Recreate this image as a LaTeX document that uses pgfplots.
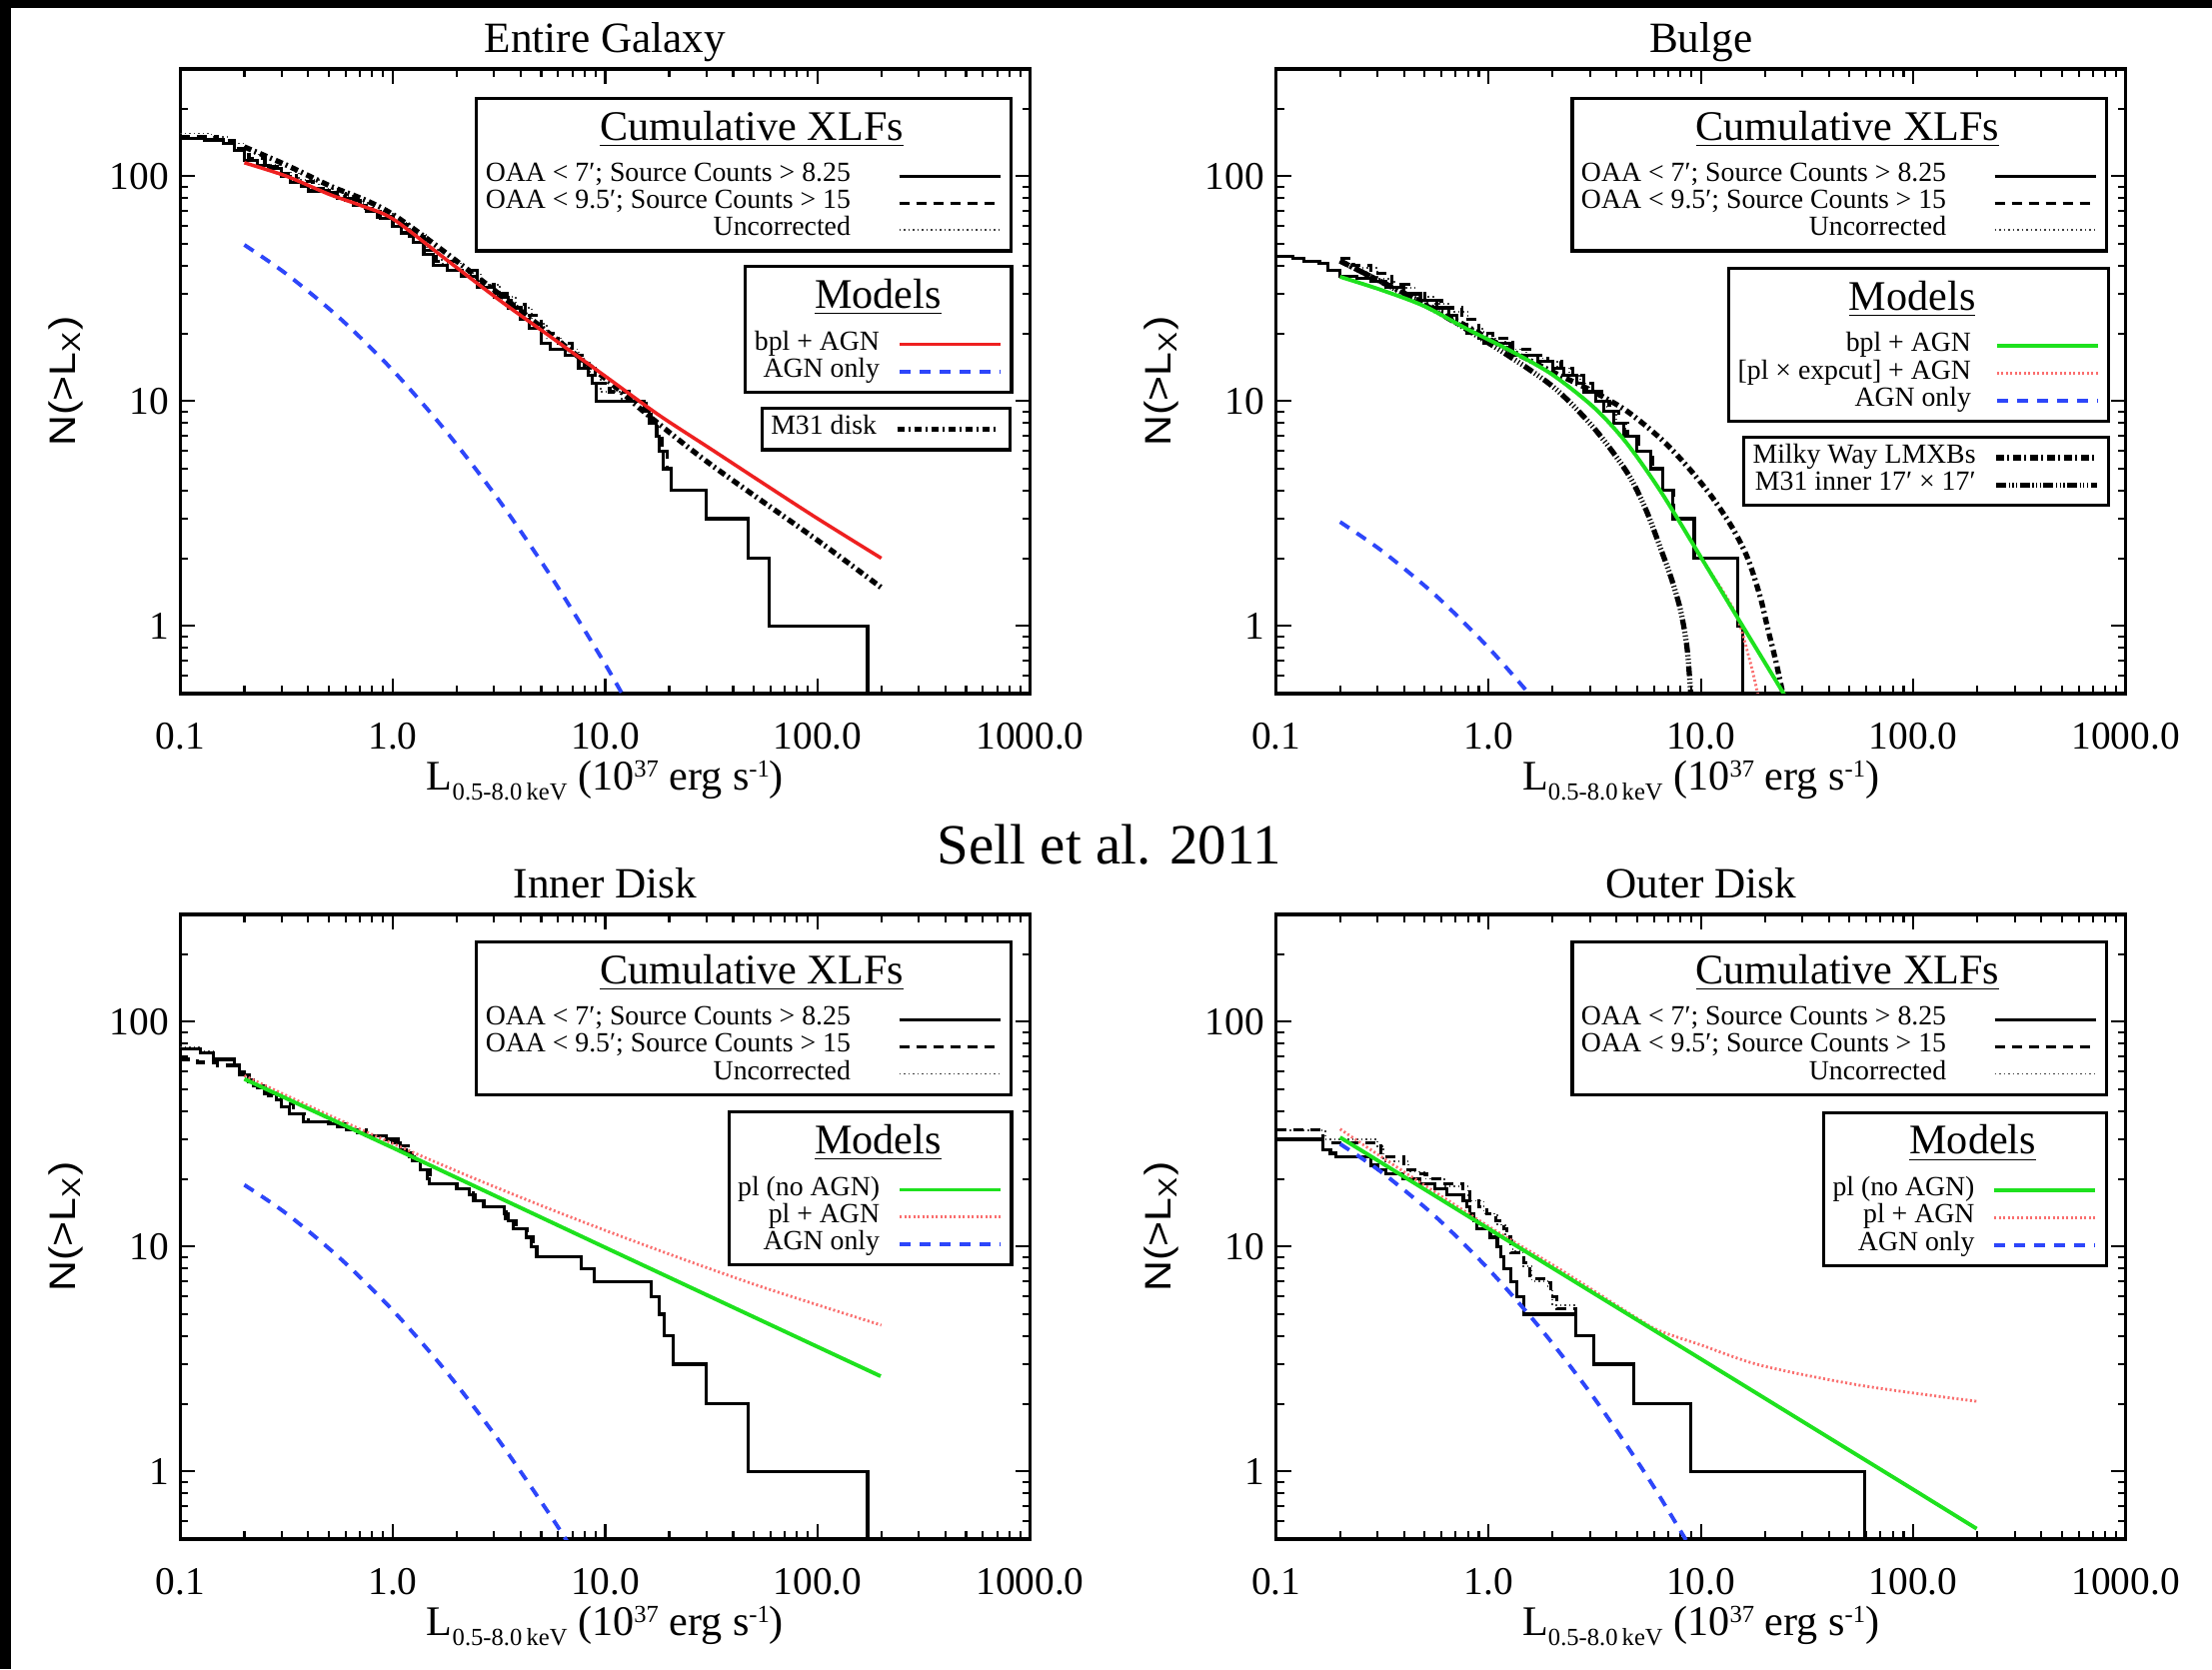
\documentclass[border=0pt]{standalone}
\usepackage{fontspec}
\setmainfont{Liberation Serif}
\newfontfamily\sansf{Liberation Sans}
\usepackage{graphicx}
\usepackage{pgfplots}
\pgfplotsset{compat=1.18}

\definecolor{mred}{RGB}{238,32,32}
\definecolor{mblue}{RGB}{45,70,250}
\definecolor{mgreen}{RGB}{30,225,30}
\definecolor{lred}{RGB}{250,110,110}

\newcommand{\ent}[1]{\rule[-0.8mm]{0pt}{2.7mm}#1}
\newcommand{\ttl}[2]{\rule[-2.25mm]{0pt}{5.7mm}\makebox[0pt]{\fontsize{12}{12}\selectfont\underline{#1}\hspace*{#2}}}
\newcommand{\xlab}{\fontsize{12}{13}\selectfont L\raisebox{-1.0mm}{\fontsize{7}{8}\selectfont 0.5-8.0\,keV} (10\raisebox{1.3mm}{\fontsize{7}{8}\selectfont 37} erg s\raisebox{1.3mm}{\fontsize{7}{8}\selectfont -1})}
\newcommand{\ylab}{\fontsize{10.5}{12}\selectfont\sansf\scalebox{1.16}[1]{N(>L\textsubscript{X})}}

\tikzset{
  solidk/.style={black, line width=0.9pt},
  dashk/.style={black, line width=0.9pt, dash pattern=on 1.0mm off 0.7mm},
  dotk/.style={black!75, line width=0.5pt, dash pattern=on 0.15mm off 0.3mm},
  redl/.style={mred, line width=1pt},
  bluel/.style={mblue, line width=1.1pt, dash pattern=on 1.1mm off 0.9mm},
  greenl/.style={mgreen, line width=1.1pt},
  reddot/.style={lred, line width=0.8pt, dash pattern=on 0.2mm off 0.25mm},
  mdisk/.style={black, line width=1.5pt, dash pattern=on 0.75mm off 0.35mm on 0.2mm off 0.4mm},
  mwl/.style={black, line width=1.5pt, dash pattern=on 0.75mm off 0.35mm on 0.2mm off 0.4mm},
  minner/.style={black, line width=1.5pt, dash pattern=on 1.0mm off 0.25mm on 0.12mm off 0.25mm on 0.12mm off 0.25mm on 0.12mm off 0.25mm},
}

\pgfplotsset{
  legend image code/.code={\draw[#1] (0mm,0mm) -- (8.5mm,0mm); \path (0mm,0mm) -- (10.1mm,0mm);},
  every axis/.append style={
    scale only axis, width=85mm, height=62.5mm,
    xmode=log, ymode=log, xmin=0.1, xmax=1000, ymin=0.5, ymax=300,
    xtick={0.1,1,10,100,1000}, xticklabels={0.1,1.0,10.0,100.0,1000.0},
    ytick={1,10,100}, yticklabels={1,10,100},
    minor xtick={0.2,0.3,0.4,0.5,0.6,0.7,0.8,0.9,2,3,4,5,6,7,8,9,20,30,40,50,60,70,80,90,200,300,400,500,600,700,800,900},
    minor ytick={0.6,0.7,0.8,0.9,2,3,4,5,6,7,8,9,20,30,40,50,60,70,80,90,200},
    tick align=inside, major tick length=1.5mm, minor tick length=0.8mm,
    tick style={black, line width=0.6pt},
    axis line style={line width=0.9pt},
    tick label style={font=\fontsize{11.2}{12}\selectfont, inner sep=0pt},
    xticklabel style={anchor=base, yshift=-5.5mm},
    yticklabel style={anchor=east, xshift=-1.1mm},
    legend plot pos=right,
    legend cell align=right,
    legend style={draw=black, line width=0.9pt, fill=white, font=\fontsize{7.9}{8}\selectfont,
      inner xsep=0.9mm, inner ysep=0.7mm, nodes={inner sep=0pt, text depth=, text height=}, row sep=0pt, anchor=north east},
  },
  every axis x label/.style={at={(axis description cs:0.5,-0.155)}, anchor=base},
  every axis y label/.style={at={(axis description cs:-0.1352,0.5)}, anchor=center, rotate=90},
  every axis title/.style={at={(axis description cs:0.5,1)}, anchor=base, yshift=1.6mm, font=\fontsize{12.3}{14}\selectfont},
}

\begin{document}
\begin{tikzpicture}
\fill[black] (0,0) rectangle (221.3mm,167mm);
\fill[white] (1.1mm,0) rectangle (221.3mm,166.2mm);

%================ Entire Galaxy ================
\begin{axis}[at={(18.05mm,97.6mm)}, anchor=south west, title={Entire Galaxy},
  xlabel={\xlab}, ylabel={\ylab},
  legend style={at={(0.979,0.955)}, column sep=4.7mm}]
\addplot[dotk, const plot, forget plot] coordinates {
(0.1,155) (0.14,150) (0.17,140) (0.2,125) (0.25,112) (0.3,104) (0.36,96) (0.45,88) (0.55,82) (0.65,76) (0.8,69) (1.0,62) (1.2,55) (1.45,47) (1.7,41) (2.1,37) (2.6,33) (3.2,29) (3.8,26) (4.5,22) (5.3,19) (6.3,17) (7.5,15) (8.5,13) (9.5,11) (12,10) (15.3,9) (16.1,8) (17.4,7) (18,6) (18.7,5) (20.4,4) (29.8,3) (46.9,2) (58.9,1) (171.8,0.1)};
\addplot[dashk, const plot, forget plot] coordinates {
(0.1,150) (0.15,144) (0.18,133) (0.21,120) (0.25,110) (0.3,103) (0.35,95) (0.42,88) (0.5,84) (0.6,78) (0.7,72) (0.85,66) (1.0,61) (1.2,54) (1.4,47) (1.6,42) (2.0,38) (2.5,33) (3.0,30) (3.6,27) (4.2,24) (5.0,20) (6.0,18) (7.0,16) (8.0,14) (9.0,12) (10.5,11) (13,10) (15.5,9) (16.5,8) (17.5,7) (18.5,6) (19.5,5) (20.4,4) (29.8,3) (46.9,2) (58.9,1) (171.8,0.1)};
\addplot[solidk, const plot, forget plot] coordinates {
(0.1,147) (0.13,145) (0.16,140) (0.18,130) (0.2,118) (0.23,112) (0.26,108) (0.3,100) (0.33,94) (0.37,90) (0.4,86) (0.5,85) (0.55,80) (0.65,74) (0.75,70) (0.87,65) (1.0,60) (1.1,56) (1.25,51) (1.4,45) (1.55,40) (1.8,38) (2.1,36) (2.5,32) (3.0,29) (3.5,26) (4.0,23) (4.4,21) (5.0,18) (5.5,17) (6.5,16) (7.5,14) (8.3,13) (8.7,12) (9.1,10) (15.3,9) (16.1,8) (17.4,7) (18.0,6) (18.7,5) (20.4,4) (29.8,3) (46.9,2) (58.9,1) (171.8,0.1)};
\addplot[mdisk, smooth, forget plot] coordinates {
(0.2,135) (0.316,112) (0.5,91) (1,67.6) (3.16,30) (10,12.6) (15.8,8.7) (31.6,5.2) (100,2.4) (199.5,1.48)};
\addplot[redl, smooth, forget plot] coordinates {
(0.2,114.8) (0.316,100) (0.5,83.2) (0.708,74.1) (1,64.6) (1.778,42.7) (3.162,28.2) (5.623,19.1) (10,12.9) (17.78,8.7) (31.6,6.1) (56.2,4.27) (100,3.0) (199.5,2.0)};
\addplot[bluel, smooth, forget plot] coordinates {
(0.2,49.5) (0.316,36.7) (0.562,23.4) (1,13.7) (1.778,7.35) (3.162,3.62) (5.623,1.63) (10,0.675) (14.1,0.38)};
\addlegendimage{empty legend}\addlegendentry{\ttl{Cumulative XLFs}{19.4mm}}
\addlegendimage{solidk}\addlegendentry{\ent{OAA < 7′; Source Counts > 8.25}}
\addlegendimage{dashk}\addlegendentry{\ent{OAA < 9.5′; Source Counts > 15}}
\addlegendimage{dotk}\addlegendentry{\ent{Uncorrected}}
\end{axis}
\begin{axis}[hide axis, at={(18.05mm,97.6mm)}, anchor=south west,
  legend style={at={(0.980,0.686)}, column sep=1.8mm}]
\addlegendimage{empty legend}\addlegendentry{\ttl{Models}{0mm}}
\addlegendimage{redl}\addlegendentry{\ent{bpl + AGN}}
\addlegendimage{bluel}\addlegendentry{\ent{AGN only}}
\end{axis}
\begin{axis}[hide axis, at={(18.05mm,97.6mm)}, anchor=south west,
  legend style={at={(0.978,0.459)}, column sep=1.8mm}]
\addlegendimage{mdisk}\addlegendentry{\ent{M31 disk}}
\end{axis}

%================ Bulge ================
\begin{axis}[at={(127.67mm,97.6mm)}, anchor=south west, title={Bulge},
  xlabel={\xlab}, ylabel={\ylab},
  legend style={at={(0.979,0.955)}, column sep=4.7mm}]
\addplot[dotk, const plot, forget plot] coordinates {
(0.2,41) (0.24,39) (0.3,35) (0.36,32) (0.45,29) (0.55,27) (0.65,25) (0.8,21) (0.95,19) (1.2,17) (1.5,16) (1.8,15) (2.1,14) (2.4,13) (2.7,12) (3.0,11) (3.3,10) (3.6,9) (4.0,8) (4.4,7) (5.0,6) (5.8,5) (6.6,4) (7.4,3) (9.3,2) (14.9,1) (15.7,0.1)};
\addplot[dashk, const plot, forget plot] coordinates {
(0.2,43) (0.23,40) (0.28,37) (0.35,33) (0.42,30) (0.5,28) (0.6,26) (0.75,23) (0.9,20) (1.05,19) (1.3,17) (1.6,16) (1.9,15) (2.2,14) (2.5,13) (2.8,12) (3.1,11) (3.4,10) (3.7,9) (4.1,8) (4.5,7) (5.1,6) (5.9,5) (6.6,4) (7.4,3) (9.3,2) (14.9,1) (15.7,0.1)};
\addplot[solidk, const plot, forget plot] coordinates {
(0.1,44) (0.12,43) (0.135,42) (0.16,41) (0.175,38) (0.2,36) (0.24,35) (0.28,34) (0.33,32) (0.4,30) (0.48,28) (0.57,26) (0.65,24) (0.71,22) (0.79,20) (0.9,19) (0.95,18) (1.26,16) (1.7,15) (2.0,14) (2.26,13) (2.6,12) (2.81,11) (3.2,10) (3.49,9) (3.9,8) (4.34,7) (5.0,6) (5.8,5) (6.59,4) (7.35,3) (9.29,2) (14.9,1) (15.7,0.1)};
\addplot[mwl, smooth, forget plot] coordinates {
(0.2,42) (0.276,36) (0.57,25.5) (1.17,17.5) (2.0,13.5) (3.13,11.0) (4.5,9) (6.47,6.8) (8.5,5.2) (11.1,3.82) (14,2.75) (16.6,2.0) (19,1.35) (20.6,0.98) (22.5,0.7) (24.3,0.5) (25,0.45)};
\addplot[minner, smooth, forget plot] coordinates {
(0.2,42) (0.276,36) (0.57,25) (1.17,16.5) (2.03,11.5) (3.13,7.6) (4.5,4.8) (5.5,3.3) (6.47,2.2) (7.3,1.6) (8.04,1.16) (8.6,0.8) (8.96,0.5) (9.1,0.45)};
\addplot[reddot, smooth, forget plot] coordinates {
(0.2,35.7) (0.316,31.1) (0.5,26.4) (0.794,20.9) (1.26,16.8) (2.0,13.1) (3.16,9.3) (4.47,6.5) (6.47,3.96) (10,2.02) (14.4,1.16) (17,0.7) (18.5,0.5) (19,0.45)};
\addplot[greenl, smooth, forget plot] coordinates {
(0.2,35.7) (0.316,31.1) (0.5,26.4) (0.794,20.9) (1.26,16.8) (2.0,13.1) (3.16,9.3) (4.47,6.5) (6.47,3.96) (10,2.02) (15.5,1.02) (24.3,0.507) (25,0.48)};
\addplot[bluel, smooth, forget plot] coordinates {
(0.2,2.9) (0.316,2.15) (0.562,1.37) (1,0.80) (1.778,0.43)};
\addlegendimage{empty legend}\addlegendentry{\ttl{Cumulative XLFs}{19.4mm}}
\addlegendimage{solidk}\addlegendentry{\ent{OAA < 7′; Source Counts > 8.25}}
\addlegendimage{dashk}\addlegendentry{\ent{OAA < 9.5′; Source Counts > 15}}
\addlegendimage{dotk}\addlegendentry{\ent{Uncorrected}}
\end{axis}
\begin{axis}[hide axis, at={(127.67mm,97.6mm)}, anchor=south west,
  legend style={at={(0.982,0.683)}, column sep=2.4mm}]
\addlegendimage{empty legend}\addlegendentry{\ttl{Models}{11.4mm}}
\addlegendimage{greenl}\addlegendentry{\ent{bpl + AGN}}
\addlegendimage{reddot}\addlegendentry{\ent{[pl × expcut] + AGN}}
\addlegendimage{bluel}\addlegendentry{\ent{AGN only}}
\end{axis}
\begin{axis}[hide axis, at={(127.67mm,97.6mm)}, anchor=south west,
  legend style={at={(0.982,0.413)}, column sep=1.8mm}]
\addlegendimage{mwl}\addlegendentry{\ent{Milky Way LMXBs}}
\addlegendimage{minner}\addlegendentry{\ent{M31 inner 17′ × 17′}}
\end{axis}

%================ Inner Disk ================
\begin{axis}[at={(18.05mm,13.0mm)}, anchor=south west, title={Inner Disk},
  xlabel={\xlab}, ylabel={\ylab},
  legend style={at={(0.979,0.958)}, column sep=4.7mm}]
\addplot[dotk, const plot, forget plot] coordinates {
(0.1,77) (0.124,74) (0.143,69) (0.18,64) (0.19,58) (0.21,54) (0.22,52) (0.25,48) (0.283,45) (0.3,42) (0.327,39) (0.378,36) (0.505,35) (0.55,34) (0.605,33) (0.68,32) (0.751,31) (0.933,30) (1.0,29) (1.08,27) (1.16,26) (1.24,24) (1.35,22) (1.45,20) (1.49,19) (2.0,18) (2.3,17) (2.45,16) (2.66,15) (3.36,14) (3.5,13) (3.7,12) (4.25,11) (4.5,10) (4.73,9) (7.7,8) (8.9,7) (16.4,6) (18.0,5) (19.0,4) (20.8,3) (29.9,2) (46.9,1) (171.8,0.1)};
\addplot[dashk, const plot, forget plot] coordinates {
(0.1,68) (0.12,66) (0.15,64) (0.19,60) (0.21,55) (0.23,51) (0.26,47) (0.3,43) (0.34,39) (0.4,36) (0.5,35) (0.6,33) (0.75,31) (0.95,30) (1.08,28) (1.2,25) (1.35,22) (1.5,19) (2.0,18) (2.4,16) (2.7,15) (3.4,13) (3.8,12) (4.3,11) (4.6,10) (4.8,9) (7.7,8) (8.9,7) (16.4,6) (18,5) (19,4) (20.8,3) (29.9,2) (46.9,1) (171.8,0.1)};
\addplot[solidk, const plot, forget plot] coordinates {
(0.1,76) (0.124,73) (0.143,68) (0.18,64) (0.19,58) (0.21,54) (0.22,52) (0.25,48) (0.283,45) (0.3,42) (0.327,39) (0.378,36) (0.505,35) (0.55,34) (0.605,33) (0.68,32) (0.751,31) (0.933,30) (1.0,29) (1.08,27) (1.16,26) (1.24,24) (1.35,22) (1.45,20) (1.49,19) (2.0,18) (2.3,17) (2.45,16) (2.66,15) (3.36,14) (3.5,13) (3.7,12) (4.25,11) (4.5,10) (4.73,9) (7.7,8) (8.9,7) (16.4,6) (18.0,5) (19.0,4) (20.8,3) (29.9,2) (46.9,1) (171.8,0.1)};
\addplot[reddot, smooth, forget plot] coordinates {
(0.2,57.5) (0.447,40.3) (1,28.7) (2.24,20.7) (5.01,15.2) (10,11.8) (22.4,8.9) (50.1,6.8) (100,5.5) (199.5,4.47)};
\addplot[greenl, forget plot] coordinates {
(0.2,55.6) (1,27.5) (10,9.9) (100,3.58) (198,2.65)};
\addplot[bluel, smooth, forget plot] coordinates {
(0.2,18.8) (0.316,14.0) (0.562,8.9) (1,5.2) (1.778,2.79) (3.162,1.37) (5.623,0.62) (7.08,0.44)};
\addlegendimage{empty legend}\addlegendentry{\ttl{Cumulative XLFs}{19.4mm}}
\addlegendimage{solidk}\addlegendentry{\ent{OAA < 7′; Source Counts > 8.25}}
\addlegendimage{dashk}\addlegendentry{\ent{OAA < 9.5′; Source Counts > 15}}
\addlegendimage{dotk}\addlegendentry{\ent{Uncorrected}}
\end{axis}
\begin{axis}[hide axis, at={(18.05mm,13.0mm)}, anchor=south west,
  legend style={at={(0.980,0.686)}, column sep=1.8mm}]
\addlegendimage{empty legend}\addlegendentry{\ttl{Models}{0mm}}
\addlegendimage{greenl}\addlegendentry{\ent{pl (no AGN)}}
\addlegendimage{reddot}\addlegendentry{\ent{pl + AGN}}
\addlegendimage{bluel}\addlegendentry{\ent{AGN only}}
\end{axis}

%================ Outer Disk ================
\begin{axis}[at={(127.67mm,13.0mm)}, anchor=south west, title={Outer Disk},
  xlabel={\xlab}, ylabel={\ylab},
  legend style={at={(0.979,0.958)}, column sep=4.7mm}]
\addplot[dotk, const plot, forget plot] coordinates {
(0.1,33) (0.17,30) (0.3,28) (0.32,24) (0.42,21.5) (0.5,20) (0.62,18.5) (0.8,16) (0.95,14) (1.1,12.5) (1.2,11) (1.3,9.5) (1.45,8.2) (1.6,7) (1.9,6.5) (2.0,5.5) (2.57,4) (3.13,3) (4.84,2) (8.98,1) (59.2,0.1)};
\addplot[dashk, const plot, forget plot] coordinates {
(0.1,33) (0.166,29) (0.297,28) (0.31,25) (0.4,22) (0.458,21) (0.51,20) (0.6,19) (0.76,18) (0.82,16) (0.9,15) (0.98,14) (1.08,13) (1.18,12) (1.22,11) (1.27,9.4) (1.47,8.5) (1.57,7.2) (1.89,6.9) (1.96,6) (2.1,5.3) (2.57,4) (3.13,3) (4.84,2) (8.98,1) (59.2,0.1)};
\addplot[solidk, const plot, forget plot] coordinates {
(0.1,30) (0.166,27) (0.18,26) (0.192,25) (0.28,23) (0.3,22) (0.33,21) (0.396,20) (0.475,19) (0.56,18) (0.635,17) (0.761,16) (0.79,15) (0.818,14) (0.85,13) (0.88,12) (1.02,11) (1.1,10) (1.14,9) (1.18,8) (1.27,7) (1.36,6) (1.47,5) (2.57,4) (3.13,3) (4.84,2) (8.98,1) (59.2,0.1)};
\addplot[reddot, smooth, forget plot] coordinates {
(0.2,33.3) (0.4,21.5) (1.0,12.3) (2.18,7.9) (5.0,4.8) (6.47,4.2) (10,3.65) (19.2,2.96) (56.9,2.41) (198.6,2.05)};
\addplot[greenl, forget plot] coordinates {
(0.2,30.6) (1,12.0) (10,3.16) (100,0.83) (198.6,0.556)};
\addplot[bluel, smooth, forget plot] coordinates {
(0.2,28.6) (0.316,21.3) (0.562,13.6) (1,7.94) (1.778,4.26) (3.162,2.10) (5.623,0.94) (8.91,0.46)};
\addlegendimage{empty legend}\addlegendentry{\ttl{Cumulative XLFs}{19.4mm}}
\addlegendimage{solidk}\addlegendentry{\ent{OAA < 7′; Source Counts > 8.25}}
\addlegendimage{dashk}\addlegendentry{\ent{OAA < 9.5′; Source Counts > 15}}
\addlegendimage{dotk}\addlegendentry{\ent{Uncorrected}}
\end{axis}
\begin{axis}[hide axis, at={(127.67mm,13.0mm)}, anchor=south west,
  legend style={at={(0.979,0.685)}, column sep=1.8mm}]
\addlegendimage{empty legend}\addlegendentry{\ttl{Models}{0mm}}
\addlegendimage{greenl}\addlegendentry{\ent{pl (no AGN)}}
\addlegendimage{reddot}\addlegendentry{\ent{pl + AGN}}
\addlegendimage{bluel}\addlegendentry{\ent{AGN only}}
\end{axis}

\node[anchor=base, font=\fontsize{16.2}{19}\selectfont] at (111mm,80.6mm) {Sell et al. 2011};
\end{tikzpicture}
\end{document}
